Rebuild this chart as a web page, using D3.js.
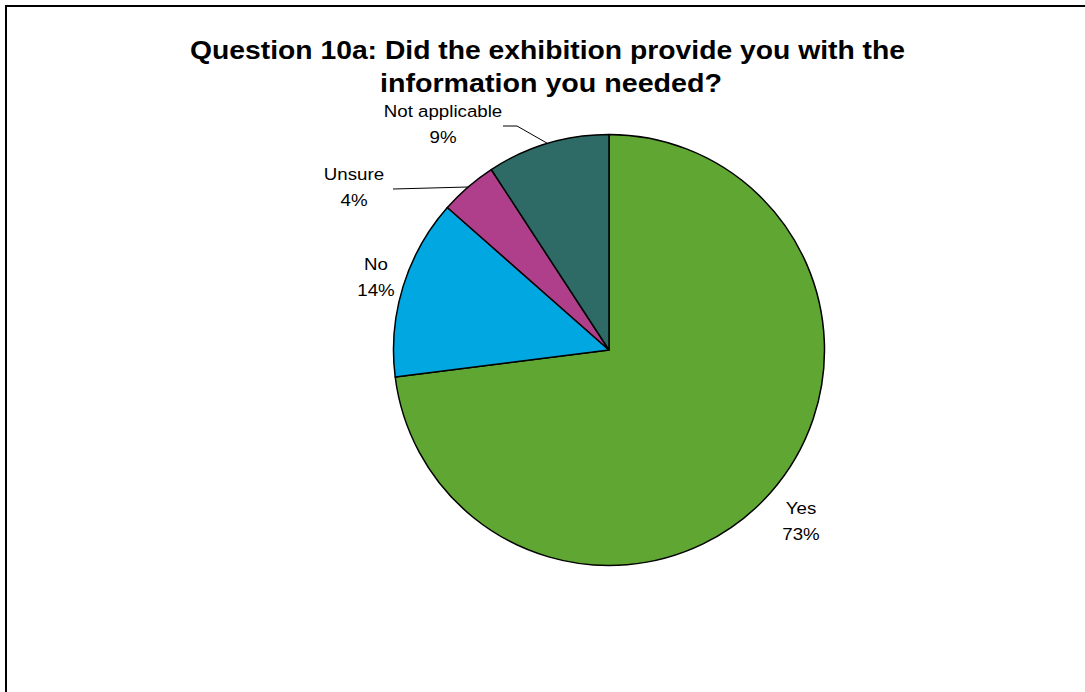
<!DOCTYPE html>
<html><head><meta charset="utf-8">
<script src="https://cdn.jsdelivr.net/npm/d3@7"></script>
<style>body{margin:0;background:#fff}svg{display:block}</style>
</head><body><svg id="c" width="1085" height="692"></svg>
<script>
const categories = ["Yes", "No", "Unsure", "Not applicable"];
const values = [73.0, 13.5, 4.3, 9.2];
const colors = ["#60A633", "#00A7E1", "#AF3F8B", "#2F6B66"];
const titleLines = ["Question 10a: Did the exhibition provide you with the", "information you needed?"];

const svg = d3.select("#c");
svg.append("rect").attr("x",6).attr("y",6).attr("width",1200).attr("height",800)
  .attr("fill","#fff").attr("stroke","#000").attr("stroke-width",2);

const titleW = [715, 342];
svg.append("g").selectAll("text").data(titleLines).join("text")
  .attr("x",(d,i)=> i===0?547.5:551).attr("y",(d,i)=>59+i*33)
  .attr("text-anchor","middle").attr("font-family","Liberation Sans, Arial, sans-serif")
  .attr("font-weight","bold").attr("font-size",26)
  .attr("textLength",(d,i)=>titleW[i]).attr("lengthAdjust","spacingAndGlyphs").text(d=>d);

const cx=609, cy=350, r=215.5;
const pie = d3.pie().sort(null).value(d=>d.v);
const data = categories.map((c,i)=>({c, v:values[i], col:colors[i]}));
const arcs = pie(data);
const arc = d3.arc().innerRadius(0).outerRadius(r);
const g = svg.append("g").attr("transform",`translate(${cx},${cy})`);
g.selectAll("path").data(arcs).join("path").attr("d",arc)
  .attr("fill",d=>d.data.col).attr("stroke","#000").attr("stroke-width",1.5).attr("stroke-linejoin","round");

// labels
const labelPos = {"Yes":[801,514],"No":[376,270],"Unsure":[354,180],"Not applicable":[443,117]};
const lg = svg.append("g").attr("font-family","Liberation Sans, Arial, sans-serif").attr("font-size",17).attr("fill","#000");
arcs.forEach(a=>{
  const [x,y] = labelPos[a.data.c];
  const t = lg.append("text").attr("text-anchor","middle")
    .attr("transform",`translate(${x},0) scale(1.1,1) translate(${-x},0)`);
  t.append("tspan").attr("x",x).attr("y",y).text(a.data.c);
  t.append("tspan").attr("x",x).attr("y",y+26).text(Math.round(a.data.v)+"%");
});

function arcPt(a, frac){ const ang = a.startAngle + (a.endAngle-a.startAngle)*frac; return [cx + r*Math.sin(ang), cy - r*Math.cos(ang)]; }
const na = arcs[3], un = arcs[2];
const pNA = arcPt(na, 0.5);
const pUN = arcPt(un, 0.5);
svg.append("path").attr("d",`M503,126 L517,126 L${pNA[0]},${pNA[1]}`).attr("fill","none").attr("stroke","#000").attr("stroke-width",1);
svg.append("path").attr("d",`M393,189 L${pUN[0]},${pUN[1]}`).attr("fill","none").attr("stroke","#000").attr("stroke-width",1);
</script></body></html>
